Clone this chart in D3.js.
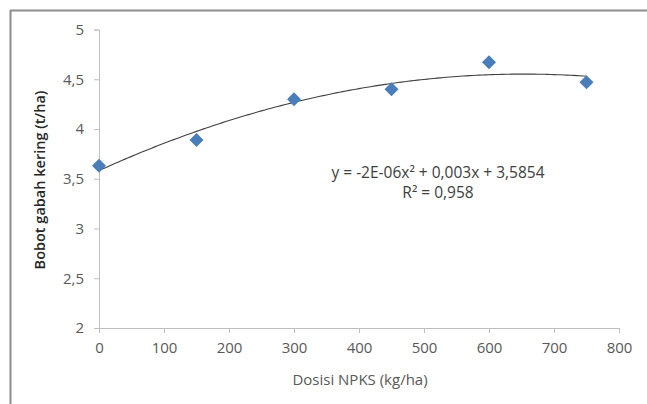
<!DOCTYPE html>
<html><head><meta charset="utf-8">
<script src="https://cdn.jsdelivr.net/npm/d3@7/dist/d3.min.js"></script>
<style>
body{margin:0;background:#fff;}
text{font-family:"Open Sans",sans-serif;}
</style></head>
<body><svg id="c" width="647" height="404"></svg>
<script>
const dosis = [0, 150, 300, 450, 600, 750];
const bobot = [3.63, 3.89, 4.30, 4.40, 4.67, 4.47];
const xTicks = [0, 100, 200, 300, 400, 500, 600, 700, 800];
const yTicks = [2, 2.5, 3, 3.5, 4, 4.5, 5];
const equation = "y = -2E-06x² + 0,003x + 3,5854";
const r2Label = "R² = 0,958";
const xTitle = "Dosisi NPKS (kg/ha)";
const yTitle = "Bobot gabah kering (t/ha)";

const svg = d3.select("#c");
// frame (top and left edges visible)
svg.append("line").attr("x1",10).attr("x2",647).attr("y1",10.5).attr("y2",10.5).attr("stroke","#8c8c8c").attr("stroke-width",2);
svg.append("line").attr("x1",10.5).attr("x2",10.5).attr("y1",10).attr("y2",404).attr("stroke","#8c8c8c").attr("stroke-width",2);

const x = d3.scaleLinear().domain([0,800]).range([99,619]);
const y = d3.scaleLinear().domain([2,5]).range([328,29.5]);

const fmt = d => String(d).replace(".", ",");
const axisColor = "#bfbfbf";

const gx = svg.append("g").attr("transform","translate(0,328)")
  .call(d3.axisBottom(x).tickValues(xTicks).tickSize(5).tickPadding(9).tickFormat(fmt));
const gy = svg.append("g").attr("transform","translate(99,0)")
  .call(d3.axisLeft(y).tickValues(yTicks).tickSize(5).tickPadding(10).tickFormat(fmt));
[gx,gy].forEach(g=>{
  g.select(".domain").attr("stroke",axisColor);
  g.selectAll(".tick line").attr("stroke",axisColor);
  g.selectAll(".tick text").attr("fill","#595959").attr("font-size",15).attr("font-family","'Open Sans',sans-serif");
});

// quadratic least squares trendline from the data
function quadFit(xs, ys){
  const n = xs.length;
  let S=[0,0,0,0,0], T=[0,0,0];
  for(let i=0;i<n;i++){
    const xi=xs[i], yi=ys[i];
    for(let k=0;k<5;k++) S[k]+=Math.pow(xi,k);
    for(let k=0;k<3;k++) T[k]+=yi*Math.pow(xi,k);
  }
  const A=[[S[0],S[1],S[2],T[0]],[S[1],S[2],S[3],T[1]],[S[2],S[3],S[4],T[2]]];
  for(let i=0;i<3;i++){
    for(let j=i+1;j<3;j++){
      const f=A[j][i]/A[i][i];
      for(let k=i;k<4;k++) A[j][k]-=f*A[i][k];
    }
  }
  const c=[0,0,0];
  for(let i=2;i>=0;i--){
    let s=A[i][3];
    for(let k=i+1;k<3;k++) s-=A[i][k]*c[k];
    c[i]=s/A[i][i];
  }
  return c;
}
const c = quadFit(dosis, bobot);
const xs = d3.range(0, 750.01, 5);
svg.append("path")
  .attr("d", d3.line().x(d=>x(d)).y(d=>y(c[0]+c[1]*d+c[2]*d*d))(xs))
  .attr("fill","none").attr("stroke","#404040").attr("stroke-width",1.1);

// markers
svg.append("g").selectAll("path").data(dosis.map((d,i)=>[d,bobot[i]])).join("path")
  .attr("d", d3.symbol().type(d3.symbolDiamond2).size(125))
  .attr("transform", d=>`translate(${x(d[0])},${y(d[1])})`)
  .attr("fill","#4a7ebb");

// equation
svg.append("text").attr("x",438).attr("y",178).attr("text-anchor","middle")
  .attr("font-size",15.5).attr("fill","#404040").text(equation);
svg.append("text").attr("x",438).attr("y",198).attr("text-anchor","middle")
  .attr("font-size",15.5).attr("fill","#404040").text(r2Label);

// axis titles
svg.append("text").attr("x",360).attr("y",385).attr("text-anchor","middle")
  .attr("font-size",15).attr("fill","#595959").text(xTitle);
svg.append("text").attr("transform","translate(45,180) rotate(-90)").attr("text-anchor","middle")
  .attr("font-size",14.5).attr("font-weight",600).attr("fill","#262626").text(yTitle);
</script></body></html>
